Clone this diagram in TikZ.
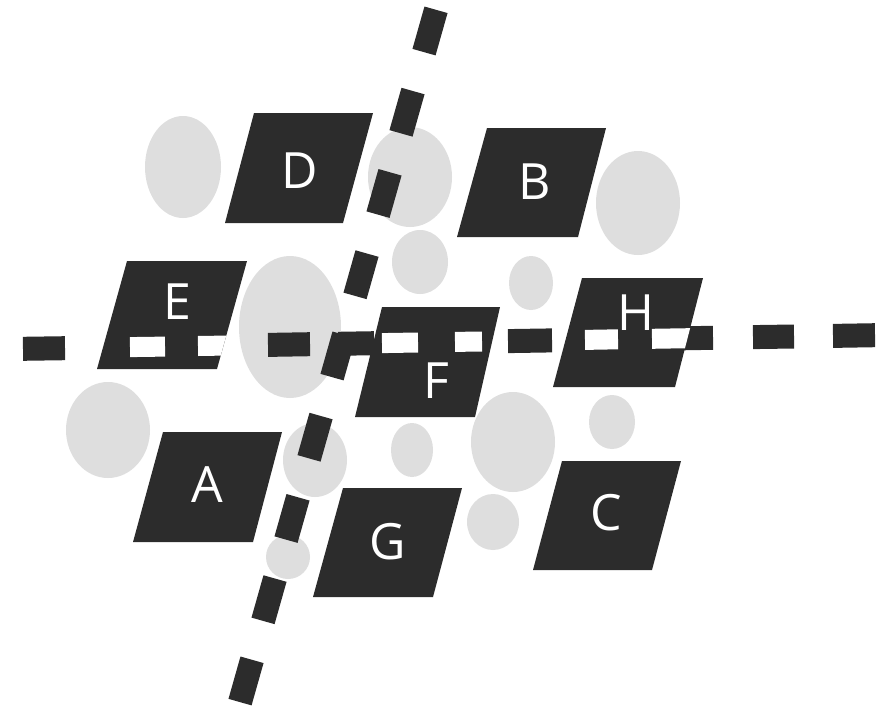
\documentclass[tikz,border=0pt]{standalone}
\usepackage{fontspec}
\setmainfont{Open Sans}
\definecolor{ink}{HTML}{2C2C2C}
\definecolor{blobc}{HTML}{DEDEDE}
\begin{document}
\begin{tikzpicture}[x=1pt,y=-1pt,
  blobshape/.style={fill=blobc},
  pgram/.style={fill=ink},
  hdash/.style={line width=24pt, draw=ink},
  cutdash/.style={line width=20pt, draw=white},
  vline/.style={line width=24pt, draw=ink, dash pattern=on 44pt off 40.44pt},
  lbl/.style={text=white, font=\fontsize{50}{50}\selectfont, inner sep=0pt, anchor=base}]
\useasboundingbox (0,0) rectangle (883,709);
% light blobs
\fill[blobshape] (183,167) ellipse [x radius=38pt, y radius=51pt];
\fill[blobshape] (410,177) ellipse [x radius=42pt, y radius=50pt];
\fill[blobshape] (420,262) ellipse [x radius=28pt, y radius=32pt];
\fill[blobshape] (638,203) ellipse [x radius=42pt, y radius=52pt];
\fill[blobshape] (531,283) ellipse [x radius=22pt, y radius=27pt];
\fill[blobshape] (290,327) ellipse [x radius=51pt, y radius=71pt];
\fill[blobshape] (108,430) ellipse [x radius=42pt, y radius=48pt];
\fill[blobshape] (315,460) ellipse [x radius=32pt, y radius=37pt];
\fill[blobshape] (412,450) ellipse [x radius=21pt, y radius=27pt];
\fill[blobshape] (513,442) ellipse [x radius=42pt, y radius=50pt];
\fill[blobshape] (612,422) ellipse [x radius=23pt, y radius=27pt];
\fill[blobshape] (493,522) ellipse [x radius=26pt, y radius=28pt];
\fill[blobshape] (288,557) ellipse [x radius=22pt, y radius=22pt];
% vertical dashed line
\coordinate (vtop) at (436,9.8);
\coordinate (vbot) at (240,702.2);
\draw[vline] (vtop) -- (vbot);
% horizontal dashes (dark)
\draw[hdash] (23,348.8) -- (65,348.2);
\draw[hdash] (268,344.9) -- (310,344.2);
\draw[hdash] (338,343.8) -- (374,343.2);
\draw[hdash] (508,341.1) -- (552,340.4);
\draw[hdash] (652,338.8) -- (713,337.8);
\draw[hdash] (753,337.1) -- (794,336.5);
\draw[hdash] (833,335.9) -- (875,335.2);
% parallelograms
\def\pD{(254,113) -- (373,113) -- (343,223) -- (225,223) -- cycle}
\def\pB{(487,128) -- (606,128) -- (578,237) -- (457,237) -- cycle}
\def\pE{(127,261) -- (247,261) -- (217,369) -- (97,369) -- cycle}
\def\pH{(582,278) -- (703,278) -- (675,387) -- (553,387) -- cycle}
\def\pF{(382,307) -- (500,307) -- (475,417) -- (355,417) -- cycle}
\def\pA{(163,432) -- (282,432) -- (253,542) -- (133,542) -- cycle}
\def\pC{(562,461) -- (681,461) -- (652,570) -- (533,570) -- cycle}
\def\pG{(343,488) -- (462,488) -- (433,597) -- (313,597) -- cycle}
\fill[pgram] \pD;
\fill[pgram] \pB;
\fill[pgram] \pE;
\fill[pgram] \pH;
\fill[pgram] \pF;
\fill[pgram] \pA;
\fill[pgram] \pC;
\fill[pgram] \pG;
% white cut-outs where the horizontal line crosses
\begin{scope}
  \clip \pE;
  \draw[cutdash] (130,347.1) -- (165,346.6);
  \draw[cutdash] (198,346.0) -- (230,345.5);
\end{scope}
\begin{scope}
  \clip \pF;
  \draw[cutdash] (382,343.1) -- (418,342.5);
  \draw[cutdash] (455,341.9) -- (482,341.5);
\end{scope}
\begin{scope}
  \clip \pH;
  \draw[cutdash] (585,339.9) -- (618,339.3);
  \draw[cutdash] (652,338.8) -- (713,337.8);
\end{scope}
% labels
\node[lbl] (lD) at (300,188) {D};
\node[lbl] (lB) at (535,199) {B};
\node[lbl] (lE) at (177,319) {E};
\node[lbl] (lH) at (636,330) {H};
\node[lbl] (lF) at (436,398) {F};
\node[lbl] (lA) at (207,502) {A};
\node[lbl] (lC) at (606,530) {C};
\node[lbl] (lG) at (388,559) {G};
\end{tikzpicture}
\end{document}
